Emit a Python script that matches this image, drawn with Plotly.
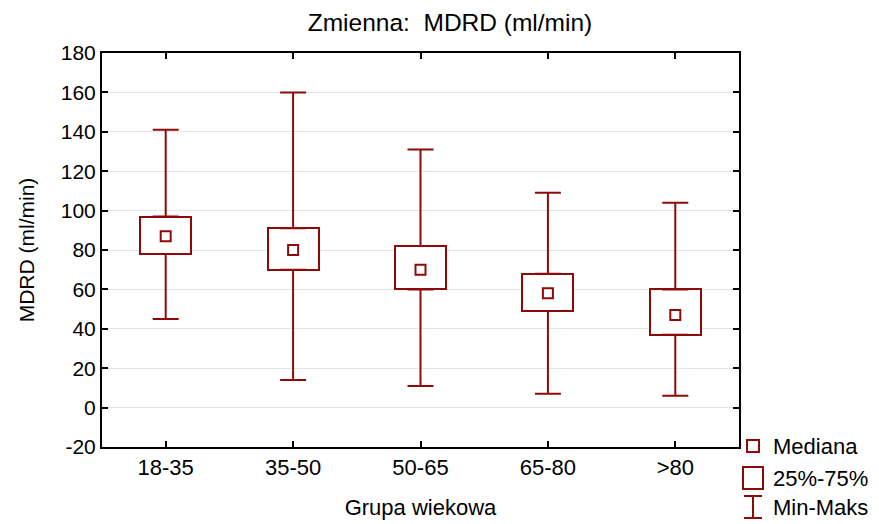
import plotly.graph_objects as go

categories = ["18-35", "35-50", "50-65", "65-80", ">80"]
v_min = [45, 14, 11, 7, 6]
v_q1 = [78, 70, 60, 49, 37]
v_median = [87, 80, 70, 58, 47]
v_q3 = [97, 91, 82, 68, 60]
v_max = [141, 160, 131, 109, 104]
y_ticks = [-20, 0, 20, 40, 60, 80, 100, 120, 140, 160, 180]
y_tick_labels = ["-20", "0", "20", "40", "60", "80", "100", "120", "140", "160", "180"]
legend_labels = ["Mediana", "25%-75%", "Min-Maks"]

RED = "#8E0A0A"
FONT = "Liberation Sans, Arial, sans-serif"

W, H = 879, 524
L, R, T, B = 102, 140, 53, 77
PW, PH = W - L - R, H - T - B


def px(xp):
    return (xp - L) / PW


def py(yp):
    return (H - B - yp) / PH


fig = go.Figure()

# IQR boxes
fig.add_trace(go.Bar(
    x=categories,
    base=v_q1,
    y=[q3 - q1 for q1, q3 in zip(v_q1, v_q3)],
    width=0.4,
    marker=dict(color="white", line=dict(color=RED, width=2)),
    showlegend=False, hoverinfo="skip",
))

# upper whiskers
fig.add_trace(go.Scatter(
    x=categories, y=v_q3, mode="markers",
    marker=dict(size=1, opacity=0),
    error_y=dict(type="data", symmetric=False,
                 array=[mx - q3 for mx, q3 in zip(v_max, v_q3)],
                 arrayminus=[0] * len(categories),
                 color=RED, thickness=2, width=13),
    showlegend=False, hoverinfo="skip",
))
# lower whiskers
fig.add_trace(go.Scatter(
    x=categories, y=v_q1, mode="markers",
    marker=dict(size=1, opacity=0),
    error_y=dict(type="data", symmetric=False,
                 array=[0] * len(categories),
                 arrayminus=[q1 - mn for mn, q1 in zip(v_min, v_q1)],
                 color=RED, thickness=2, width=13),
    showlegend=False, hoverinfo="skip",
))
# medians
fig.add_trace(go.Scatter(
    x=categories, y=v_median, mode="markers",
    marker=dict(symbol="square-open", size=10, color=RED, line=dict(color=RED, width=2)),
    showlegend=False,
))

shapes = []
# legend glyphs
shapes.append(dict(type="rect", xref="paper", yref="paper",
                   x0=px(747), x1=px(759), y0=py(452), y1=py(440),
                   line=dict(color=RED, width=2)))
shapes.append(dict(type="rect", xref="paper", yref="paper",
                   x0=px(743), x1=px(763), y0=py(489), y1=py(467),
                   line=dict(color=RED, width=2)))
shapes.append(dict(type="line", xref="paper", yref="paper",
                   x0=px(753), x1=px(753), y0=py(518), y1=py(496),
                   line=dict(color=RED, width=2)))
shapes.append(dict(type="line", xref="paper", yref="paper",
                   x0=px(744), x1=px(762), y0=py(496), y1=py(496),
                   line=dict(color=RED, width=2)))
shapes.append(dict(type="line", xref="paper", yref="paper",
                   x0=px(744), x1=px(762), y0=py(518), y1=py(518),
                   line=dict(color=RED, width=2)))

annotations = []
for lbl, yp in zip(legend_labels, [446, 478, 507]):
    annotations.append(dict(text=lbl, xref="paper", yref="paper",
                            x=px(771), y=py(yp), xanchor="left", yanchor="middle",
                            showarrow=False, font=dict(family=FONT, size=22, color="black")))

fig.update_layout(
    width=W, height=H,
    margin=dict(l=L, r=R, t=T, b=B, pad=0, autoexpand=False),
    paper_bgcolor="white", plot_bgcolor="white",
    title=dict(text="Zmienna:  MDRD (ml/min)", x=450 / W, xref="container", xanchor="center",
               y=1 - 22 / H, yref="container", yanchor="middle",
               font=dict(family=FONT, size=24.5, color="black")),
    font=dict(family=FONT, color="black"),
    shapes=shapes, annotations=annotations,
    bargap=0,
)
fig.update_xaxes(
    range=[-0.5, 4.5], showgrid=False, automargin=False,
    showline=True, linecolor="black", linewidth=2, mirror="ticks",
    ticks="inside", ticklen=6, tickwidth=2, tickcolor="black",
    tickfont=dict(family=FONT, size=22, color="black"),
    title=dict(text="Grupa wiekowa", font=dict(family=FONT, size=22, color="black"), standoff=20),
)
fig.update_yaxes(
    range=[-20, 180], tickvals=y_ticks, ticktext=y_tick_labels, automargin=False,
    showgrid=True, gridcolor="#e4e4e4", gridwidth=1,
    zeroline=False,
    showline=True, linecolor="black", linewidth=2, mirror="ticks",
    ticks="inside", ticklen=6, tickwidth=2, tickcolor="black",
    tickfont=dict(family=FONT, size=21, color="black"),
    title=dict(text="MDRD (ml/min)", font=dict(family=FONT, size=21, color="black"), standoff=20),
)

fig.write_html("out.html", config={"displayModeBar": False},
               post_script="document.body.style.margin='0';document.body.style.overflow='hidden';")
